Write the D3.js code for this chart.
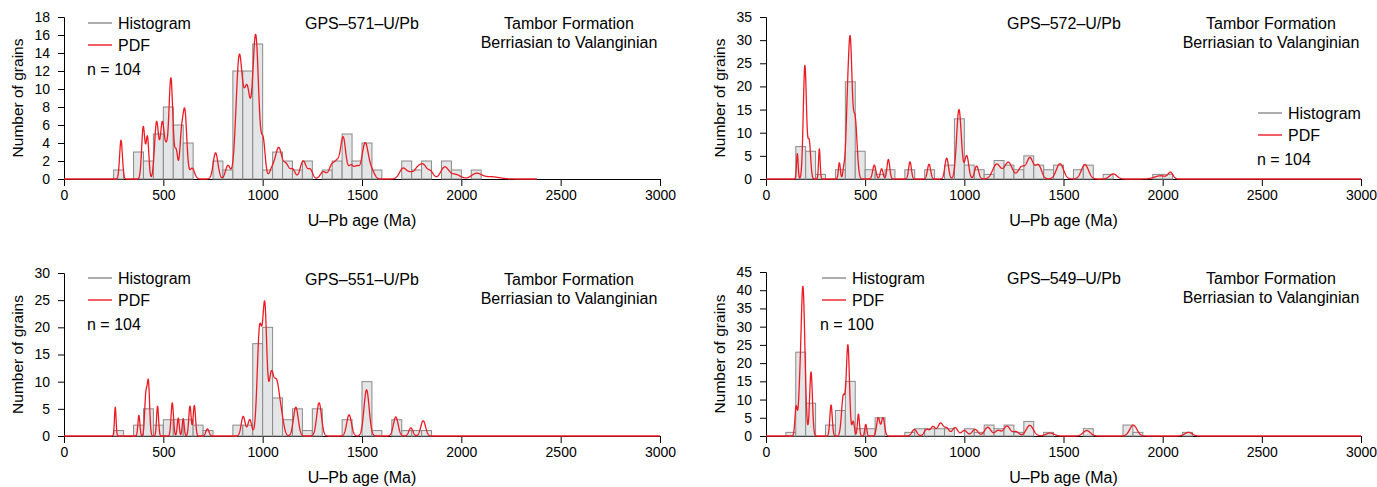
<!DOCTYPE html>
<html>
<head>
<meta charset="utf-8">
<script src="https://cdn.jsdelivr.net/npm/d3@7"></script>
<style>
  body { margin: 0; background: #fff; }
  svg text { font-family: "Liberation Sans", Arial, Helvetica, sans-serif; fill: #000; }
</style>
</head>
<body>
<svg id="chart" width="1377" height="487"></svg>
<script>
// ---- data ----------------------------------------------------------------
const sampleIds = ["GPS–571–U/Pb", "GPS–572–U/Pb", "GPS–551–U/Pb", "GPS–549–U/Pb"];
const grainCounts = [104, 104, 104, 100];
const unitName = "Tambor Formation";
const unitAge = "Berriasian to Valanginian";
const xLabel = "U–Pb age (Ma)";
const yLabel = "Number of grains";
const legendLabels = ["Histogram", "PDF"];

const ageTicks = [0, 500, 1000, 1500, 2000, 2500, 3000];
const binWidth = 50; // Ma

const yTicks571 = [0, 2, 4, 6, 8, 10, 12, 14, 16, 18];
const yTicks572 = [0, 5, 10, 15, 20, 25, 30, 35];
const yTicks551 = [0, 5, 10, 15, 20, 25, 30];
const yTicks549 = [0, 5, 10, 15, 20, 25, 30, 35, 40, 45];

// histogram: [bin start (Ma), grains]
const hist571 = [[250,1],[350,3],[400,2],[450,5],[500,8],[550,6],[600,4],[750,2],[800,1],[850,12],[900,12],[950,15],[1000,1],[1050,3],[1100,2],[1150,1],[1200,2],[1300,1],[1350,2],[1400,5],[1450,2],[1500,4],[1550,1],[1700,2],[1750,1],[1800,2],[1900,2],[1950,1],[2050,1]];
const hist572 = [[150,7],[200,6],[250,1],[350,2],[400,21],[450,6],[500,2],[550,1],[600,2],[700,2],[800,2],[900,3],[950,13],[1000,3],[1050,2],[1100,1],[1150,4],[1200,3],[1250,2],[1300,5],[1350,3],[1400,2],[1450,3],[1550,2],[1600,3],[1700,1],[1950,1],[2000,1]];
const hist551 = [[250,1],[350,2],[400,5],[450,2],[500,3],[550,3],[600,3],[650,2],[700,1],[850,2],[900,2],[950,17],[1000,20],[1050,7],[1100,3],[1150,5],[1200,1],[1250,5],[1400,3],[1500,10],[1550,1],[1650,3],[1700,1],[1750,1],[1800,1]];
const hist549 = [[100,1],[150,23],[200,9],[300,3],[350,7],[400,15],[450,2],[500,2],[550,5],[700,1],[750,2],[800,2],[850,2],[900,2],[1000,2],[1050,1],[1100,3],[1150,2],[1200,3],[1250,1],[1300,4],[1400,1],[1600,2],[1800,3],[1850,1],[2100,1]];

// probability density peaks: [age (Ma), height (grains), spread (Ma)]
const pdf571 = [[287,4.3,7],[399,5.8,8],[420,4.6,7],[466,6.3,10],[495,6.2,10],[515,2.5,8],[538,11.2,10],[565,3,8],[590,4,8],[608,7.5,10],[645,1.2,12],
  [763,2.9,12],[825,1.5,12],[882,13.4,16],[922,9.6,16],[965,15.8,15],[1003,4,10],
  [1050,1.2,15],[1081,3.3,15],[1118,1.6,15],[1152,1.0,12],[1204,2.0,15],[1240,1.0,12],[1305,0.8,15],[1350,1.6,15],[1376,1.5,12],[1405,4.6,13],[1445,1.5,14],[1475,1.2,12],[1516,4.0,16],[1550,0.8,14],
  [1707,1.2,18],[1745,0.6,15],[1778,1.0,15],[1808,1.5,17],[1845,0.8,15],[1916,1.3,20],[1970,0.5,25],[2076,0.6,25],[2150,0.25,40]];
const pdf572 = [[158,5.5,4],[196,24.5,8],[218,8,7],[269,6.5,4],[370,3.5,5],[392,2,5],[410,12,8],[425,28,9],[449,13,10],
  [546,3,8],[583,2.2,7],[617,4.2,7],[726,3.7,7],[822,3.2,8],[911,4.5,9],[973,15,12],[1012,5,10],[1062,2.8,10],
  [1163,3.2,20],[1222,3.6,20],[1289,2.6,18],[1331,4.4,16],[1373,3.0,16],[1482,3.3,18],[1608,3.1,18],[1751,1.1,18],[1990,0.7,30],[2040,1.3,12]];
const pdf551 = [[258,5.3,4],[377,3.8,5],[412,7.3,6],[425,9.6,6],[471,5.5,5],[545,6.1,6],[575,3.3,5],[600,3.2,5],[634,5.5,6],[656,5.6,6],[722,1.3,8],
  [902,3.6,10],[935,3,10],[985,19.8,12],[1011,22.4,10],[1042,10.4,12],[1070,9.4,14],[1095,3,12],[1167,5.3,12],[1284,6.1,12],
  [1435,3.9,12],[1523,8.5,13],[1670,3.5,12],[1746,1.5,10],[1808,2.8,12]];
const pdf549 = [[152,8,6],[168,6,6],[186,41,10],[227,17.6,7],[328,8.5,6],[390,11,9],[413,24.6,8],[440,4,6],[466,6,5],[503,3.2,5],[566,5,8],[590,5,8],
  [748,1.8,12],[810,1.8,12],[842,2.5,12],[880,3.5,14],[912,2,12],[953,2.3,14],[1000,1.5,14],[1054,1.8,15],[1118,2.4,16],[1170,1.5,15],[1215,2.7,16],[1260,1.2,15],[1330,2.9,18],
  [1432,0.8,20],[1617,1.5,18],[1852,3.0,18],[2130,1.0,18]];

// ---- layout ----------------------------------------------------------------
const panels = [
  { id: sampleIds[0], n: grainCounts[0], hist: hist571, pdf: pdf571, yTicks: yTicks571, pdfEnd: 2380,
    left: 64, right: 660, top: 17, bottom: 179, legend: { x: 24, y: 6, nx: 23 } },
  { id: sampleIds[1], n: grainCounts[1], hist: hist572, pdf: pdf572, yTicks: yTicks572, pdfEnd: 3000,
    left: 766, right: 1361, top: 17, bottom: 179, legend: { x: 492, y: 96, nx: 491 } },
  { id: sampleIds[2], n: grainCounts[2], hist: hist551, pdf: pdf551, yTicks: yTicks551, pdfEnd: 3000,
    left: 64, right: 660, top: 273, bottom: 436, legend: { x: 24, y: 5, nx: 23 } },
  { id: sampleIds[3], n: grainCounts[3], hist: hist549, pdf: pdf549, yTicks: yTicks549, pdfEnd: 3000,
    left: 766, right: 1361, top: 272, bottom: 436, legend: { x: 56, y: 6, nx: 54 } }
];

const histFill = "#e4e5e6";
const histStroke = "#8a8a8a";
const pdfColor = "#ec1c24";
const tickFont = "14px";
const labelFont = "16px";

const svg = d3.select("#chart");

function densityPoints(components, end) {
  const pts = [];
  for (let a = 0; a <= end; a += 1) {
    let v = 0;
    for (const [mu, h, s] of components) v += h * Math.exp(-((a - mu) ** 2) / (2 * s * s));
    pts.push([a, v]);
  }
  return pts;
}

panels.forEach(p => {
  const x = d3.scaleLinear().domain([ageTicks[0], ageTicks[ageTicks.length - 1]]).range([p.left, p.right]);
  const y = d3.scaleLinear().domain([0, d3.max(p.yTicks)]).range([p.bottom, p.top]);
  const g = svg.append("g");

  // axes
  const xAxis = g.append("g")
    .attr("transform", `translate(0,${p.bottom})`)
    .call(d3.axisBottom(x).tickValues(ageTicks).tickFormat(d3.format("d")).tickSizeOuter(0).tickSize(7).tickPadding(4));
  const yAxis = g.append("g")
    .attr("transform", `translate(${p.left},0)`)
    .call(d3.axisLeft(y).tickValues(p.yTicks).tickFormat(d3.format("d")).tickSizeOuter(0).tickSize(6).tickPadding(8));
  [xAxis, yAxis].forEach(ax => {
    ax.attr("font-family", null).attr("font-size", null);
    ax.selectAll("text").style("font-size", tickFont);
    ax.selectAll("path, line").attr("stroke", "#000");
  });

  // histogram bars
  g.append("g").selectAll("rect")
    .data(p.hist)
    .join("rect")
    .attr("x", d => x(d[0]))
    .attr("y", d => y(d[1]))
    .attr("width", d => x(d[0] + binWidth) - x(d[0]))
    .attr("height", d => y(0) - y(d[1]))
    .attr("fill", histFill)
    .attr("stroke", histStroke)
    .attr("stroke-width", 1);

  // probability density curve
  const line = d3.line().x(d => x(d[0])).y(d => y(d[1]));
  g.append("path")
    .datum(densityPoints(p.pdf, p.pdfEnd))
    .attr("d", line)
    .attr("fill", "none")
    .attr("stroke", pdfColor)
    .attr("stroke-width", 1.3)
    .attr("stroke-linejoin", "round");

  // axis titles
  g.append("text")
    .attr("x", (p.left + p.right) / 2)
    .attr("y", p.bottom + 41)
    .attr("dy", "0.35em")
    .attr("text-anchor", "middle")
    .style("font-size", labelFont)
    .text(xLabel);
  g.append("text")
    .attr("transform", `translate(${p.left - 46},${(p.top + p.bottom) / 2}) rotate(-90)`)
    .attr("dy", "0.35em")
    .attr("text-anchor", "middle")
    .style("font-size", "15.5px")
    .text(yLabel);

  // sample id and stratigraphic unit
  g.append("text")
    .attr("x", p.left + 241).attr("y", p.top + 6).attr("dy", "0.35em")
    .style("font-size", labelFont).text(p.id);
  g.append("text")
    .attr("x", p.left + 505).attr("y", p.top + 6).attr("dy", "0.35em")
    .attr("text-anchor", "middle").style("font-size", labelFont).text(unitName);
  g.append("text")
    .attr("x", p.left + 505).attr("y", p.top + 25).attr("dy", "0.35em")
    .attr("text-anchor", "middle").style("font-size", labelFont).text(unitAge);

  // legend
  const lg = g.append("g").attr("transform", `translate(${p.left},${p.top})`);
  const items = [{ label: legendLabels[0], color: histStroke }, { label: legendLabels[1], color: pdfColor }];
  items.forEach((it, i) => {
    const ly = p.legend.y + i * 22;
    lg.append("line")
      .attr("x1", p.legend.x).attr("x2", p.legend.x + 24)
      .attr("y1", ly).attr("y2", ly)
      .attr("stroke", it.color).attr("stroke-width", 1.4);
    lg.append("text")
      .attr("x", p.legend.x + 30).attr("y", ly).attr("dy", "0.35em")
      .style("font-size", labelFont).text(it.label);
  });
  lg.append("text")
    .attr("x", p.legend.nx).attr("y", p.legend.y + 46).attr("dy", "0.35em")
    .style("font-size", labelFont).text(`n = ${p.n}`);
});
</script>
</body>
</html>
